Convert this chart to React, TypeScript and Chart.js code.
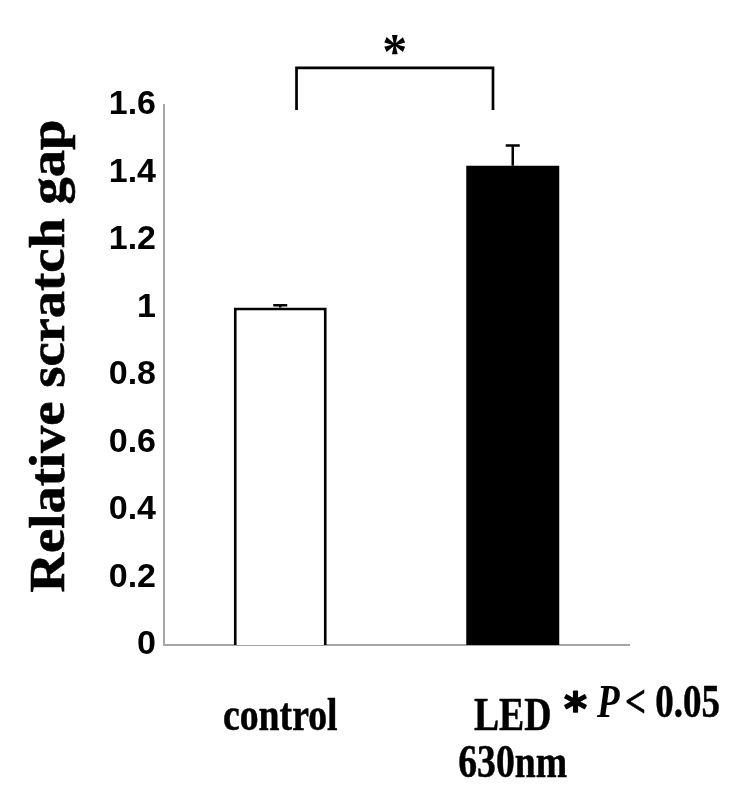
import React, { useEffect, useRef } from "react";
import { Chart, registerables } from "chart.js";

Chart.register(...registerables);

// ---- data ----
const categories: string[][] = [["control"], ["LED", "630nm"]];
const means: number[] = [1.0, 1.42];
const errors: number[] = [0.007, 0.06];
const barFill: string[] = ["#ffffff", "#000000"];
const barBorder: number[] = [3, 0];
const yTickValues: number[] = [0, 0.2, 0.4, 0.6, 0.8, 1, 1.2, 1.4, 1.6];
const yTickLabels: string[] = ["0", "0.2", "0.4", "0.6", "0.8", "1", "1.2", "1.4", "1.6"];
const yTitle = "Relative scratch gap";
const sigMark = "*";
const pNote: string[] = ["*", "P", "< 0.05"];
// bracket: category-index ends and value levels
const bracketFrom = 0.07;
const bracketTo = 0.915;
const bracketTop = 1.71;
const bracketFoot = 1.585;

const SERIF = "'Liberation Serif', 'Times New Roman', serif";
const SANS = "'Liberation Sans', Arial, sans-serif";

function drawStretched(
  ctx: CanvasRenderingContext2D,
  text: string,
  x: number,
  y: number,
  font: string,
  sx: number,
  sy: number,
  align: CanvasTextAlign = "left",
  strokeW = 0
) {
  ctx.save();
  ctx.translate(x, y);
  ctx.scale(sx, sy);
  ctx.font = font;
  ctx.textAlign = align;
  ctx.textBaseline = "alphabetic";
  ctx.fillStyle = "#000";
  ctx.fillText(text, 0, 0);
  if (strokeW > 0) {
    ctx.strokeStyle = "#000";
    ctx.lineWidth = strokeW;
    ctx.lineJoin = "round";
    ctx.strokeText(text, 0, 0);
  }
  ctx.restore();
}

function centeredBaseline(ctx: CanvasRenderingContext2D, text: string, font: string, cy: number) {
  ctx.save();
  ctx.font = font;
  const m = ctx.measureText(text);
  ctx.restore();
  return cy + (m.actualBoundingBoxAscent - m.actualBoundingBoxDescent) / 2;
}

const overlay = {
  id: "overlay",
  afterDraw(chart: any) {
    const ctx: CanvasRenderingContext2D = chart.ctx;
    const xs = chart.scales.x;
    const ys = chart.scales.y;
    const meta = chart.getDatasetMeta(0);

    // error bars
    ctx.save();
    ctx.strokeStyle = "#000";
    ctx.lineWidth = 2.5;
    means.forEach((m, i) => {
      const el = meta.data[i];
      const cx = el.x;
      const y0 = ys.getPixelForValue(m);
      const y1 = ys.getPixelForValue(m + errors[i]);
      ctx.beginPath();
      ctx.moveTo(cx, y0);
      ctx.lineTo(cx, y1);
      ctx.moveTo(cx - 7, y1);
      ctx.lineTo(cx + 7, y1);
      ctx.stroke();
    });
    ctx.restore();

    // significance bracket
    const bx0 = xs.getPixelForValue(bracketFrom);
    const bx1 = xs.getPixelForValue(bracketTo);
    const by = ys.getPixelForValue(bracketTop);
    const bf = ys.getPixelForValue(bracketFoot);
    ctx.save();
    ctx.strokeStyle = "#000";
    ctx.lineWidth = 2.7;
    ctx.beginPath();
    ctx.moveTo(bx0, bf);
    ctx.lineTo(bx0, by);
    ctx.lineTo(bx1, by);
    ctx.lineTo(bx1, bf);
    ctx.stroke();
    ctx.restore();
    const starFont = `bold 50px ${SERIF}`;
    drawStretched(ctx, sigMark, (bx0 + bx1) / 2, centeredBaseline(ctx, sigMark, starFont, by - 23), starFont, 1, 1, "center");

    // category labels
    const catFont = `bold 37px ${SERIF}`;
    categories.forEach((lines, i) => {
      const cx = xs.getPixelForValue(i);
      lines.forEach((line, j) => {
        drawStretched(ctx, line, cx, ys.bottom + 85 + j * 47, catFont, 1.02, 1.25, "center", 0.4);
      });
    });

    // y title
    ctx.save();
    ctx.translate(64, (ys.top + ys.bottom) / 2 - 19);
    ctx.rotate(-Math.PI / 2);
    ctx.scale(1.07, 1);
    ctx.font = `bold 51px ${SERIF}`;
    ctx.textAlign = "center";
    ctx.textBaseline = "alphabetic";
    ctx.fillStyle = "#000";
    ctx.fillText(yTitle, 0, 0);
    ctx.strokeStyle = "#000";
    ctx.lineWidth = 0.6;
    ctx.strokeText(yTitle, 0, 0);
    ctx.restore();

    // p-value note
    const noteBase = ys.bottom + 72;
    const nStarFont = `bold 44px 'DejaVu Sans', ${SANS}`;
    drawStretched(ctx, pNote[0], 564, centeredBaseline(ctx, pNote[0], nStarFont, noteBase - 16), nStarFont, 1, 1, "left", 1.5);
    drawStretched(ctx, pNote[1], 597, noteBase, `italic bold 37px ${SERIF}`, 1, 1.25, "left");
    drawStretched(ctx, pNote[2], 625, noteBase, `bold 37px ${SERIF}`, 1, 1.25, "left", 0.4);
  },
};

export default function App() {
  const ref = useRef<HTMLCanvasElement | null>(null);
  useEffect(() => {
    if (!ref.current) return;
    const chart = new Chart(ref.current, {
      type: "bar",
      data: {
        labels: categories.map((c) => c.join(" ")),
        datasets: [
          {
            data: means,
            backgroundColor: barFill,
            borderColor: "#000000",
            borderWidth: barBorder,
            borderSkipped: "start",
            barPercentage: 0.4,
            categoryPercentage: 1,
          },
        ],
      },
      options: {
        animation: false,
        responsive: false,
        maintainAspectRatio: false,
        layout: { padding: { left: 0, right: 122, top: 105, bottom: 0 } },
        plugins: { legend: { display: false }, tooltip: { enabled: false }, title: { display: false } },
        scales: {
          x: {
            grid: { display: false, drawTicks: false },
            border: { display: true, color: "#a6a6a6", width: 2 },
            ticks: { display: false },
            afterFit: (s: any) => {
              s.height = 152;
            },
          },
          y: {
            min: 0,
            max: 1.6,
            grid: { display: false, drawTicks: false },
            border: { display: true, color: "#a6a6a6", width: 2 },
            afterBuildTicks: (s: any) => {
              s.ticks = yTickValues.map((v) => ({ value: v }));
            },
            ticks: {
              color: "#000",
              padding: 8,
              font: { family: SANS, size: 34, weight: "bold" },
              callback: (v: any) => {
                const idx = yTickValues.findIndex((t) => Math.abs(t - Number(v)) < 1e-9);
                return idx >= 0 ? yTickLabels[idx] : "";
              },
            },
            afterFit: (s: any) => {
              s.width = 164;
            },
          },
        },
      },
      plugins: [overlay],
    });
    return () => chart.destroy();
  }, []);
  return (
    <div style={{ position: "absolute", left: 0, top: 0, width: 751, height: 797, background: "#fff" }}>
      <canvas ref={ref} width={751} height={797} style={{ width: 751, height: 797, display: "block" }} />
    </div>
  );
}
